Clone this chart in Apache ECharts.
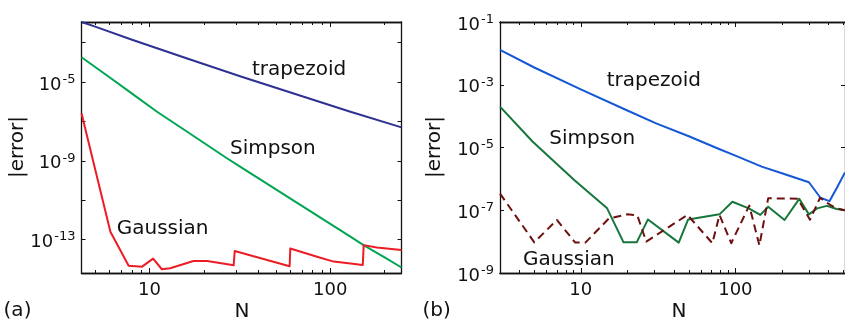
<!DOCTYPE html>
<html>
<head>
<meta charset="utf-8">
<script src="https://cdn.jsdelivr.net/npm/echarts@6/dist/echarts.min.js"></script>
<style>
  html, body { margin: 0; padding: 0; background: #fff; }
  #chart { width: 845px; height: 323px; }
</style>
</head>
<body>
<div id="chart"></div>
<script>
// Integration error |error| against number of points N, two test integrands.

// ---- panel (a) ----
const nTrapA = [4.2, 5, 8, 16, 32, 64, 128, 248];
const errTrapA = [1.12e-2, 6.5e-3, 1.41e-3, 1.62e-4, 1.9e-5, 2.45e-6, 3.2e-7, 5.0e-8];

const nSimpA = [4.2, 6, 8, 11, 16, 26.8, 32, 64, 128, 152.8, 200, 248];
const errSimpA = [1.82e-4, 1.74e-5, 2.57e-6, 3.09e-7, 3.16e-8, 1.35e-9, 4.8e-10, 8.5e-12, 1.48e-13, 5.2e-14, 1.23e-14, 3.8e-15];

const nGaussA = [4.2, 6.07, 7.66, 9.09, 10.46, 11.7, 13.0, 17.5, 20.8, 22.6, 29.2, 29.6, 59.6, 60.1, 84.5, 104.5, 126, 151.4, 153.2, 181, 248];
const errGaussA = [2.57e-7, 2.5e-13, 4.7e-15, 4.2e-15, 1.07e-14, 3.1e-15, 3.5e-15, 8.1e-15, 8.1e-15, 7.2e-15, 4.9e-15, 2.6e-14, 4.4e-15, 3.5e-14, 1.35e-14, 7.6e-15, 6.3e-15, 5.1e-15, 5.2e-14, 3.9e-14, 2.95e-14];

// ---- panel (b) ----
const nTrapB = [3, 5, 10, 20, 30.7, 50, 77, 100, 148, 200, 299, 355, 406, 452, 512];
const errTrapB = [1.29e-2, 3.55e-3, 7.1e-4, 1.51e-4, 5.9e-5, 2.29e-5, 9.3e-6, 5.5e-6, 2.45e-6, 1.51e-6, 7.8e-7, 2.5e-7, 1.95e-7, 5.0e-7, 1.6e-6];

const nSimpB = [3, 4.87, 7, 9.1, 14.8, 18.9, 23, 27.2, 43, 49.5, 78.9, 95.7, 122, 145, 163, 208, 259, 299, 338, 391, 452, 512];
const errSimpB = [2.0e-4, 1.55e-5, 3.0e-6, 9.1e-7, 1.15e-7, 9.5e-9, 9.5e-9, 5.1e-8, 9.3e-9, 5.1e-8, 7.4e-8, 1.86e-7, 1.15e-7, 7.1e-8, 1.29e-7, 4.9e-8, 2.3e-7, 7.4e-8, 1.15e-7, 1.38e-7, 1.1e-7, 1.0e-7];

const nGaussB = [3, 5, 7, 9.2, 10.7, 15.2, 19.9, 23.2, 26.5, 49, 71, 78.9, 94, 123, 143, 163, 253, 304, 353, 410, 452, 512];
const errGaussB = [3.4e-7, 9.5e-9, 4.9e-8, 9.3e-9, 9.3e-9, 5.5e-8, 7.4e-8, 6.9e-8, 1.0e-8, 7.1e-8, 8.9e-9, 7.1e-8, 8.9e-9, 1.41e-7, 7.6e-9, 2.4e-7, 2.34e-7, 5.0e-8, 2.5e-7, 1.48e-7, 1.15e-7, 1.0e-7];

// ---- axis ticks ----
const xMajorTicks = [10, 100];
const xMinorTicksA = [5, 6, 7, 8, 9, 20, 30, 40, 50, 60, 70, 80, 90, 200];
const xMinorTicksB = [4, 5, 6, 7, 8, 9, 20, 30, 40, 50, 60, 70, 80, 90, 200, 300, 400, 500];
const yTicksA = [1e-3, 1e-5, 1e-7, 1e-9, 1e-11, 1e-13];
const yLabelsA = [1e-5, 1e-9, 1e-13];
const yTicksB = [1e-1, 1e-3, 1e-5, 1e-7, 1e-9];
const yLabelsB = [1e-1, 1e-3, 1e-5, 1e-7, 1e-9];

const FONT = 'DejaVu Sans';
const INK = '#111';
const TICK_FONT = 18;
const TEXT_FONT = 20;

const pairs = (xs, ys) => xs.map((x, i) => [x, ys[i]]);

function xAxisSet(gi, min, max, minor) {
  const base = {
    type: 'log', logBase: 10, gridIndex: gi, min: min, max: max,
    axisLine: { show: true, onZero: false, lineStyle: { color: INK, width: 1.3 } },
    splitLine: { show: false }, minorTick: { show: false }, minorSplitLine: { show: false }
  };
  const tick = (vals, len) => ({ show: true, inside: true, length: len, customValues: vals, lineStyle: { color: INK, width: 1 } });
  return [
    Object.assign({}, base, {
      position: 'bottom', axisTick: tick(xMajorTicks, 5),
      axisLabel: {
        show: true, customValues: xMajorTicks, margin: 8, color: INK,
        fontFamily: FONT, fontSize: TICK_FONT, formatter: v => String(Math.round(v))
      }
    }),
    Object.assign({}, base, { position: 'bottom', axisTick: tick(minor, 3), axisLabel: { show: false } }),
    Object.assign({}, base, { position: 'top', axisTick: tick(xMajorTicks, 5), axisLabel: { show: false } }),
    Object.assign({}, base, { position: 'top', axisTick: tick(minor, 3), axisLabel: { show: false } })
  ];
}

function yAxisSet(gi, min, max, ticks, labels) {
  const base = {
    type: 'log', logBase: 10, gridIndex: gi, min: min, max: max,
    axisLine: { show: true, onZero: false, lineStyle: { color: INK, width: 1.3 } },
    splitLine: { show: false }, minorTick: { show: false }, minorSplitLine: { show: false },
    axisTick: { show: true, inside: true, length: 4, customValues: ticks, lineStyle: { color: INK, width: 1 } }
  };
  return [
    Object.assign({}, base, {
      position: 'left',
      axisLabel: {
        show: true, customValues: labels, margin: 6,
        formatter: v => '{b|10}{s|' + Math.round(Math.log10(v)) + '}',
        rich: {
          b: { fontFamily: FONT, fontSize: TICK_FONT, color: INK, lineHeight: 24, verticalAlign: 'bottom' },
          s: { fontFamily: FONT, fontSize: 13, color: INK, lineHeight: 24, verticalAlign: 'bottom', padding: [0, 0, 8, 1] }
        }
      }
    }),
    Object.assign({}, base, { position: 'right', axisLabel: { show: false } })
  ];
}

function lineSeries(xi, yi, xs, ys, color, dashed) {
  return {
    type: 'line', xAxisIndex: xi, yAxisIndex: yi, data: pairs(xs, ys),
    showSymbol: false, symbol: 'none', clip: true, animation: false,
    lineStyle: { color: color, width: 2, type: dashed ? [8, 5] : 'solid', join: 'round' }
  };
}

function txt(x, y, s, opts) {
  return Object.assign({
    type: 'text', x: x, y: y, silent: true,
    style: {
      text: s, fill: INK, font: TEXT_FONT + 'px "' + FONT + '"',
      align: 'left', textAlign: 'left', verticalAlign: 'middle', textVerticalAlign: 'middle'
    }
  }, opts || {});
}
function ctxt(x, y, s, rot) {
  const t = txt(x, y, s, rot ? { rotation: rot } : null);
  t.style.align = t.style.textAlign = 'center';
  return t;
}

const option = {
  animation: false,
  backgroundColor: '#fff',
  grid: [
    { left: 81.5, top: 22, width: 320, height: 251, containLabel: false },
    { left: 500, top: 22, width: 354, height: 251, containLabel: false }
  ],
  xAxis: [].concat(
    xAxisSet(0, 4.2, 248, xMinorTicksA),
    xAxisSet(1, 3, 512, xMinorTicksB)
  ),
  yAxis: [].concat(
    yAxisSet(0, 2e-15, 1.12e-2, yTicksA, yLabelsA),
    yAxisSet(1, 1e-9, 1e-1, yTicksB, yLabelsB)
  ),
  series: [
    lineSeries(0, 0, nTrapA, errTrapA, '#2e3192', false),
    lineSeries(0, 0, nSimpA, errSimpA, '#00a651', false),
    lineSeries(0, 0, nGaussA, errGaussA, '#ed1c24', false),
    lineSeries(4, 2, nTrapB, errTrapB, '#1558d6', false),
    lineSeries(4, 2, nSimpB, errSimpB, '#17763c', false),
    lineSeries(4, 2, nGaussB, errGaussB, '#6e1010', true)
  ],
  graphic: { elements: [
    txt(252, 69.6, 'trapezoid'),
    txt(230, 149.1, 'Simpson'),
    txt(116.7, 229.1, 'Gaussian'),
    txt(606.7, 80.4, 'trapezoid'),
    txt(549.3, 138.8, 'Simpson'),
    txt(523, 259.5, 'Gaussian'),
    ctxt(18, 147, '|error|', Math.PI / 2),
    ctxt(435, 147, '|error|', Math.PI / 2),
    ctxt(242, 311.5, 'N'),
    ctxt(679, 311.5, 'N'),
    ctxt(17.5, 311, '(a)'),
    ctxt(436.7, 311, '(b)')
  ] }
};

const chart = echarts.init(document.getElementById('chart'), null, { renderer: 'canvas' });
chart.setOption(option);
</script>
</body>
</html>
